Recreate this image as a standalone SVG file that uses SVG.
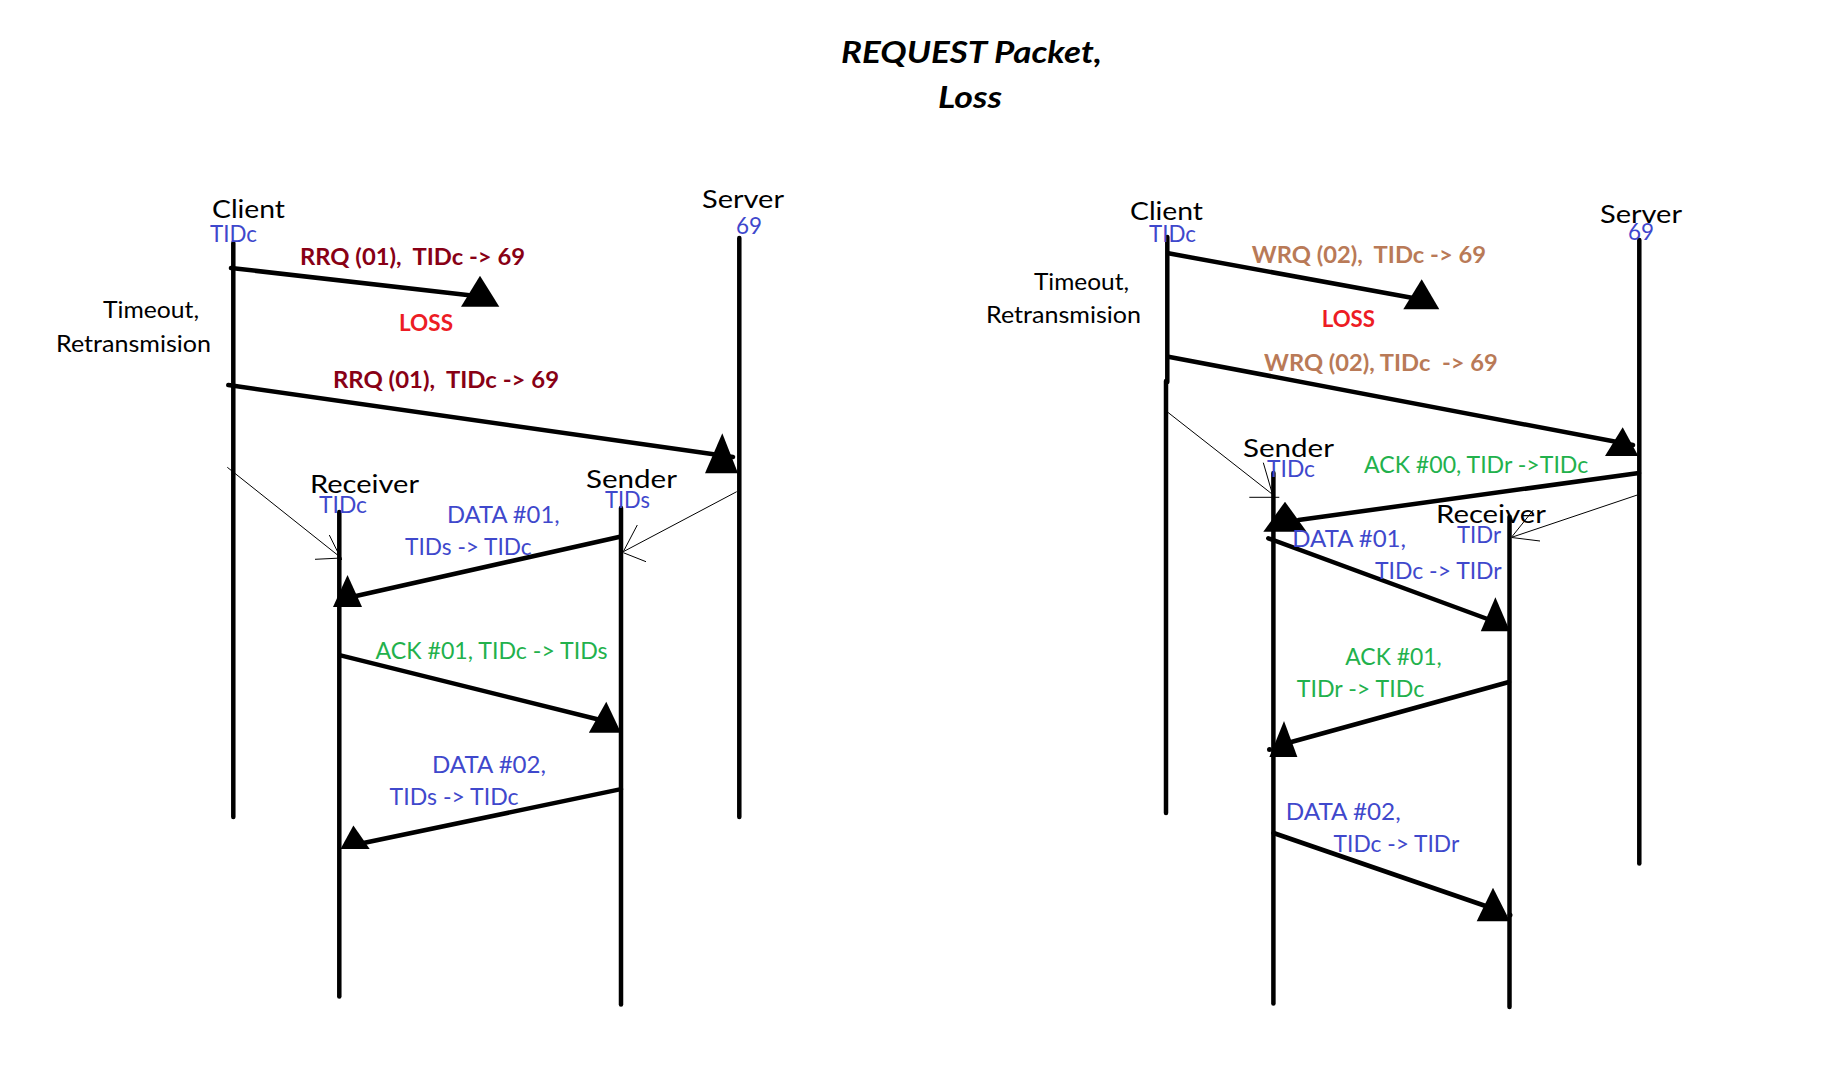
<svg xmlns="http://www.w3.org/2000/svg" width="1832" height="1084" viewBox="0 0 1832 1084">
<style>
text{font-family:Lato,"Open Sans","Liberation Sans",sans-serif;white-space:pre}
.name{font-size:25.5px;fill:#000}
.sub{font-size:22.5px;fill:#3f48cc}
.lbl{font-size:23px;fill:#000}
.rrq{font-size:23px;font-weight:bold;fill:#880015}
.wrq{font-size:23px;font-weight:bold;fill:#b97a57}
.loss{font-size:23px;font-weight:bold;fill:#ed1c24}
.blue{font-size:22.5px;fill:#3f48cc}
.green{font-size:22.5px;fill:#22b14c}
.title{font-size:30.5px;font-weight:bold;font-style:italic;fill:#000}
.life{stroke:#000;stroke-width:4.5;stroke-linecap:round;fill:none}
.msg{stroke:#000;stroke-width:4.5;stroke-linecap:round;fill:none}
.thin{stroke:#000;stroke-width:1;fill:none}
.tri{fill:#000}
</style>
<rect width="1832" height="1084" fill="#fff"/>
<g id="title">
<text class="title" x="841" y="63" textLength="261" lengthAdjust="spacingAndGlyphs">REQUEST Packet,</text>
<text class="title" x="938" y="108" textLength="64" lengthAdjust="spacingAndGlyphs">Loss</text>
</g>
<!-- Left diagram nodes -->
<g id="left-client">
<line class="life" x1="233.3" y1="243" x2="233.3" y2="817"/>
<text class="name" x="212" y="218" textLength="73" lengthAdjust="spacingAndGlyphs">Client</text>
<text class="sub" x="210" y="242" textLength="47" lengthAdjust="spacingAndGlyphs">TIDc</text>
<text class="lbl" x="103" y="318" textLength="96" lengthAdjust="spacingAndGlyphs">Timeout,</text>
<text class="lbl" x="56" y="352" textLength="155" lengthAdjust="spacingAndGlyphs">Retransmision</text>
</g>
<g id="left-server">
<line class="life" x1="739.3" y1="238" x2="739.3" y2="817"/>
<text class="name" x="702" y="208" textLength="82" lengthAdjust="spacingAndGlyphs">Server</text>
<text class="sub" x="736" y="234" textLength="26" lengthAdjust="spacingAndGlyphs">69</text>
</g>
<g id="left-receiver">
<line class="life" x1="339.3" y1="512" x2="339.3" y2="996.5"/>
<text class="name" x="310" y="493" textLength="109" lengthAdjust="spacingAndGlyphs">Receiver</text>
<text class="sub" x="319" y="513" textLength="48" lengthAdjust="spacingAndGlyphs">TIDc</text>
</g>
<g id="left-sender">
<line class="life" x1="621" y1="508" x2="621" y2="1004.5"/>
<text class="name" x="586" y="488" textLength="91" lengthAdjust="spacingAndGlyphs">Sender</text>
<text class="sub" x="605" y="508" textLength="45" lengthAdjust="spacingAndGlyphs">TIDs</text>
</g>
<!-- Right diagram nodes -->
<g id="right-client">
<line class="life" x1="1167.3" y1="237" x2="1167.3" y2="382"/>
<line class="life" x1="1166" y1="381" x2="1166" y2="813"/>
<text class="name" x="1130" y="220" textLength="73" lengthAdjust="spacingAndGlyphs">Client</text>
<text class="sub" x="1149" y="242" textLength="47" lengthAdjust="spacingAndGlyphs">TIDc</text>
<text class="lbl" x="1034" y="290" textLength="95" lengthAdjust="spacingAndGlyphs">Timeout,</text>
<text class="lbl" x="986" y="323" textLength="155" lengthAdjust="spacingAndGlyphs">Retransmision</text>
</g>
<g id="right-server">
<line class="life" x1="1639.3" y1="240" x2="1639.3" y2="863.5"/>
<text class="name" x="1600" y="223" textLength="82" lengthAdjust="spacingAndGlyphs">Server</text>
<text class="sub" x="1628" y="240" textLength="26" lengthAdjust="spacingAndGlyphs">69</text>
</g>
<g id="right-sender">
<line class="life" x1="1273.4" y1="473" x2="1273.4" y2="1003.5"/>
<text class="name" x="1243" y="457" textLength="91" lengthAdjust="spacingAndGlyphs">Sender</text>
<text class="sub" x="1267" y="477" textLength="48" lengthAdjust="spacingAndGlyphs">TIDc</text>
</g>
<g id="right-receiver">
<line class="life" x1="1509.5" y1="516.7" x2="1509.5" y2="1007"/>
<text class="name" x="1436" y="523" textLength="110" lengthAdjust="spacingAndGlyphs">Receiver</text>
<text class="sub" x="1457" y="543" textLength="44" lengthAdjust="spacingAndGlyphs">TIDr</text>
</g>
<!-- Connectors -->
<g id="connectors">
<g id="l-rrq1">
<line class="msg" x1="231" y1="268" x2="476" y2="296"/>
<polygon class="tri" points="480,275.7 461,306.7 499.3,306.7"/>
<text class="rrq" x="300" y="265" textLength="225" lengthAdjust="spacingAndGlyphs">RRQ (01),  TIDc -&gt; 69</text>
<text class="loss" x="399" y="331" textLength="54" lengthAdjust="spacingAndGlyphs">LOSS</text>
</g>
<g id="l-rrq2">
<line class="msg" x1="228.3" y1="385" x2="733" y2="457"/>
<polygon class="tri" points="722.3,433.3 705,473.3 738,473.3"/>
<text class="rrq" x="333" y="388" textLength="226" lengthAdjust="spacingAndGlyphs">RRQ (01),  TIDc -&gt; 69</text>
</g>
<g id="l-thin1">
<line class="thin" x1="227.3" y1="467.3" x2="341.7" y2="558.3"/>
<line class="thin" x1="329.3" y1="535" x2="341.7" y2="560"/>
<line class="thin" x1="315" y1="559.3" x2="341.7" y2="558"/>
</g>
<g id="l-thin2">
<line class="thin" x1="736.7" y1="491.7" x2="623.3" y2="551.7"/>
<line class="thin" x1="637.3" y1="525" x2="623.3" y2="551.7"/>
<line class="thin" x1="646" y1="561.7" x2="623.3" y2="552.7"/>
</g>
<g id="l-data1">
<line class="msg" x1="620" y1="536.7" x2="356" y2="596"/>
<polygon class="tri" points="347.5,575 333,607 362,607"/>
<text class="blue" x="447" y="523" textLength="112.6" lengthAdjust="spacingAndGlyphs">DATA #01,</text>
<text class="blue" x="405" y="555" textLength="126.7" lengthAdjust="spacingAndGlyphs">TIDs -&gt; TIDc</text>
</g>
<g id="l-ack1">
<line class="msg" x1="340.5" y1="655.4" x2="607.5" y2="721.7"/>
<polygon class="tri" points="606.3,701.7 588.8,732.8 621,732.8"/>
<text class="green" x="375.6" y="659" textLength="232" lengthAdjust="spacingAndGlyphs">ACK #01, TIDc -&gt; TIDs</text>
</g>
<g id="l-data2">
<line class="msg" x1="621" y1="789.1" x2="356.3" y2="844.5"/>
<polygon class="tri" points="353.4,825.4 340.5,849 369.7,849"/>
<text class="blue" x="432" y="773" textLength="114" lengthAdjust="spacingAndGlyphs">DATA #02,</text>
<text class="blue" x="389.6" y="805.4" textLength="129" lengthAdjust="spacingAndGlyphs">TIDs -&gt; TIDc</text>
</g>
<g id="r-wrq1">
<line class="msg" x1="1168.3" y1="253.3" x2="1413" y2="298"/>
<polygon class="tri" points="1421.7,279.3 1403.3,309.3 1439.3,309.3"/>
<text class="wrq" x="1251.7" y="263" textLength="234.3" lengthAdjust="spacingAndGlyphs">WRQ (02),  TIDc -&gt; 69</text>
<text class="loss" x="1321.7" y="327" textLength="53.3" lengthAdjust="spacingAndGlyphs">LOSS</text>
</g>
<g id="r-wrq2">
<line class="msg" x1="1168.3" y1="356.7" x2="1633" y2="445"/>
<polygon class="tri" points="1622.7,427.3 1605,456 1638.3,456"/>
<text class="wrq" x="1264" y="371" textLength="233.7" lengthAdjust="spacingAndGlyphs">WRQ (02), TIDc  -&gt; 69</text>
</g>
<g id="r-thin1">
<line class="thin" x1="1164" y1="409.3" x2="1273.3" y2="495"/>
<line class="thin" x1="1263.3" y1="462.7" x2="1272.7" y2="495"/>
<line class="thin" x1="1249.3" y1="497.3" x2="1279.3" y2="497.3"/>
</g>
<g id="r-ack0">
<line class="msg" x1="1639" y1="473" x2="1298.5" y2="520"/>
<polygon class="tri" points="1285,501.7 1263.3,531.7 1306.7,531.7"/>
<text class="green" x="1364" y="472.7" textLength="224.3" lengthAdjust="spacingAndGlyphs">ACK #00, TIDr -&gt;TIDc</text>
</g>
<g id="r-thin2">
<line class="thin" x1="1637.3" y1="495" x2="1511.7" y2="537.3"/>
<line class="thin" x1="1533.3" y1="510" x2="1511.7" y2="537"/>
<line class="thin" x1="1540" y1="541" x2="1511.7" y2="537.5"/>
</g>
<g id="r-data1">
<line class="msg" x1="1268.3" y1="538.3" x2="1494.3" y2="621.5"/>
<polygon class="tri" points="1495.4,597.3 1480.8,631.2 1510,631.2"/>
<text class="blue" x="1292.3" y="546.7" textLength="113.7" lengthAdjust="spacingAndGlyphs">DATA #01,</text>
<text class="blue" x="1375" y="579.3" textLength="126.7" lengthAdjust="spacingAndGlyphs">TIDc -&gt; TIDr</text>
</g>
<g id="r-ack1">
<line class="msg" x1="1509" y1="682" x2="1284" y2="744"/>
<polygon class="tri" points="1284,721 1269.4,757 1297.4,757"/>
<circle class="tri" cx="1269.5" cy="749.4" r="2.5"/>
<text class="green" x="1345.3" y="664.7" textLength="96.4" lengthAdjust="spacingAndGlyphs">ACK #01,</text>
<text class="green" x="1296.8" y="697" textLength="127.4" lengthAdjust="spacingAndGlyphs">TIDr -&gt; TIDc</text>
</g>
<g id="r-data2">
<line class="msg" x1="1273.5" y1="833" x2="1494.3" y2="909"/>
<polygon class="tri" points="1493,887.7 1476.7,921.2 1510,921.2"/>
<circle class="tri" cx="1510" cy="915" r="2.5"/>
<text class="blue" x="1285.7" y="820.3" textLength="115" lengthAdjust="spacingAndGlyphs">DATA #02,</text>
<text class="blue" x="1333.6" y="852.4" textLength="125.6" lengthAdjust="spacingAndGlyphs">TIDc -&gt; TIDr</text>
</g>
</g>
</svg>
